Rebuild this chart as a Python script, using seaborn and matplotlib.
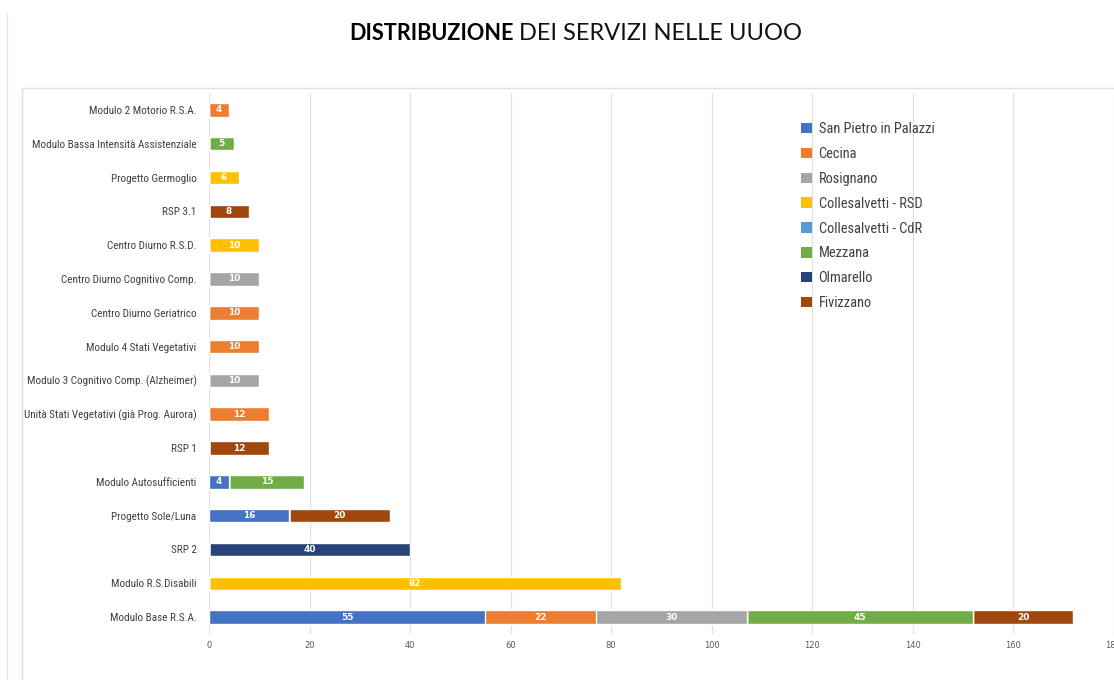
import numpy as np
import pandas as pd
import matplotlib
matplotlib.use("Agg")
import matplotlib.pyplot as plt
from matplotlib.patches import Patch
from matplotlib.lines import Line2D
from matplotlib import font_manager
import seaborn as sns

# categories, top to bottom as shown
categories = [
    "Modulo 2 Motorio R.S.A.",
    "Modulo Bassa Intensità Assistenziale",
    "Progetto Germoglio",
    "RSP 3.1",
    "Centro Diurno R.S.D.",
    "Centro Diurno Cognitivo Comp.",
    "Centro Diurno Geriatrico",
    "Modulo 4 Stati Vegetativi",
    "Modulo 3 Cognitivo Comp. (Alzheimer)",
    "Unità Stati Vegetativi (già Prog. Aurora)",
    "RSP 1",
    "Modulo Autosufficienti",
    "Progetto Sole/Luna",
    "SRP 2",
    "Modulo R.S.Disabili",
    "Modulo Base R.S.A.",
]

san_pietro = [0, 0, 0, 0, 0, 0, 0, 0, 0, 0, 0, 4, 16, 0, 0, 55]
cecina = [4, 0, 0, 0, 0, 0, 10, 10, 0, 12, 0, 0, 0, 0, 0, 22]
rosignano = [0, 0, 0, 0, 0, 10, 0, 0, 10, 0, 0, 0, 0, 0, 0, 30]
coll_rsd = [0, 0, 6, 0, 10, 0, 0, 0, 0, 0, 0, 0, 0, 0, 82, 0]
coll_cdr = [0, 0, 0, 0, 0, 0, 0, 0, 0, 0, 0, 0, 0, 0, 0, 0]
mezzana = [0, 5, 0, 0, 0, 0, 0, 0, 0, 0, 0, 15, 0, 0, 0, 45]
olmarello = [0, 0, 0, 0, 0, 0, 0, 0, 0, 0, 0, 0, 0, 40, 0, 0]
fivizzano = [0, 0, 0, 8, 0, 0, 0, 0, 0, 0, 12, 0, 20, 0, 0, 20]

series_names = ["San Pietro in Palazzi", "Cecina", "Rosignano", "Collesalvetti - RSD",
                "Collesalvetti - CdR", "Mezzana", "Olmarello", "Fivizzano"]
series_values = [san_pietro, cecina, rosignano, coll_rsd, coll_cdr, mezzana, olmarello, fivizzano]
colors = ["#4472C4", "#ED7D31", "#A5A5A5", "#FFC000", "#5B9BD5", "#70AD47", "#264478", "#9E480E"]

x_ticks = [0, 20, 40, 60, 80, 100, 120, 140, 160, 180]

# pick a condensed family if one is installed
installed = {f.name for f in font_manager.fontManager.ttflist}
narrow_font = "Liberation Sans"
narrow_size, legend_size = 7.2, 8.6
for cand in ["Roboto Condensed", "Liberation Sans Narrow", "Noto Sans Condensed"]:
    if cand in installed:
        narrow_font = cand
        narrow_size, legend_size = 8, 10.4
        break
narrow = [narrow_font, "DejaVu Sans"]

sns.set_theme(style="white")

wide = pd.DataFrame(dict(zip(series_names, series_values)), index=categories)
cum = wide.cumsum(axis=1)

fig = plt.figure(figsize=(11.14, 6.8), dpi=100)
ax = fig.add_axes([209 / 1114, 1 - 634 / 680, 904.5 / 1114, (634 - 93) / 680])

# stacked bars: draw cumulative totals from the last series back to the first
for name, col in reversed(list(zip(series_names, colors))):
    sns.barplot(x=cum[name].values, y=categories, color=col, orient="h",
                width=0.4, saturation=1, ax=ax, zorder=3)

# value labels in the middle of each segment
for i, cat in enumerate(categories):
    left = 0
    for name in series_names:
        v = wide.loc[cat, name]
        if v > 0:
            ax.text(left + v / 2, i, str(v), ha="center", va="center",
                    color="white", fontsize=6.5, fontweight="bold", zorder=4)
        left += v

ax.set_xlim(0, 180)
ax.set_xticks(x_ticks)
ax.set_xticklabels([str(t) for t in x_ticks], fontsize=6, color="#595959")
ax.set_ylim(15.5, -0.5)
ax.set_xlabel("")
ax.set_ylabel("")
ax.tick_params(axis="x", length=0, pad=5)
ax.tick_params(axis="y", length=0, pad=9)
for lab in ax.get_yticklabels():
    lab.set_fontfamily(narrow)
    lab.set_fontsize(narrow_size)
    lab.set_color("#404040")
ax.grid(axis="x", color="#dde1e6", linewidth=0.9, zorder=0)
ax.grid(axis="y", visible=False)
for s in ax.spines.values():
    s.set_visible(False)

handles = [Patch(facecolor=c, edgecolor="none") for c in colors]
leg = fig.legend(handles, series_names, loc="upper left",
                 bbox_to_anchor=(794 / 1114, 1 - 115 / 680), frameon=False,
                 prop={"family": narrow, "size": legend_size}, handlelength=0.75,
                 handleheight=0.75, handletextpad=0.45, labelspacing=0.75,
                 borderpad=0)
for t in leg.get_texts():
    t.set_color("#404040")

# title: bold first word, regular rest
fig.text(514 / 1114, 1 - 33 / 680, "DISTRIBUZIONE", ha="right", va="center",
         fontsize=15.6, fontweight="bold", color="black", family=["Lato", "DejaVu Sans"])
fig.text(519 / 1114, 1 - 33 / 680, "DEI SERVIZI NELLE UUOO", ha="left", va="center",
         fontsize=17, fontweight="normal", color="#111111", family=["Lato", "DejaVu Sans"])

# chart-area borders
fig.add_artist(Line2D([7 / 1114, 7 / 1114], [1 - 13 / 680, 0], transform=fig.transFigure,
                      color="#e6e6e6", linewidth=1))
fig.add_artist(Line2D([22 / 1114, 22 / 1114, 1], [0, 1 - 88 / 680, 1 - 88 / 680],
                      transform=fig.transFigure, color="#e0e0e0", linewidth=1))

fig.savefig("out.png", dpi=100)
